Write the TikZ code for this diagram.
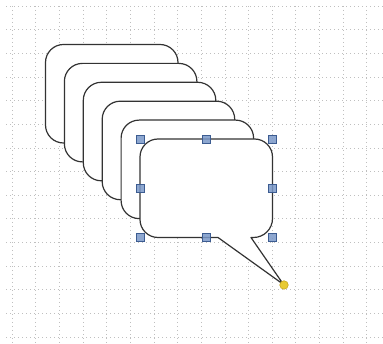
\documentclass[tikz,border=0pt]{standalone}
\definecolor{outline}{RGB}{51,51,51}
\definecolor{handlefill}{RGB}{122,152,200}
\definecolor{handledraw}{RGB}{60,92,145}
\definecolor{knobfill}{RGB}{232,202,50}
\definecolor{knobdraw}{RGB}{200,168,30}
\begin{document}
\begin{tikzpicture}[x=1pt,y=-1pt,
  gridline/.style={draw=gray!50, line width=0.7pt, dash pattern=on 0.9pt off 3.1pt},
  bubble/.style={draw=outline, fill=white, line width=1.2pt, line join=round},
  backbubble/.style={bubble, rounded corners=18pt},
  handle/.style={draw=handledraw, fill=handlefill, fill opacity=0.85, line width=0.8pt, rectangle, minimum size=8pt, inner sep=0pt},
  knob/.style={draw=knobdraw, fill=knobfill, line width=0.6pt, circle, minimum size=8.5pt, inner sep=0pt}]
\useasboundingbox (0,0) rectangle (383,344);
% grid
\foreach \i in {0,...,15} \draw[gridline] (12+\i*23.65,6) -- (12+\i*23.65,344);
\foreach \j in {0,...,14} \draw[gridline] (6,6+\j*23.65) -- (383,6+\j*23.65);
% stacked back bubbles
\foreach \k in {0,...,4} \draw[backbubble] (45.5+\k*18.9,44.5+\k*18.9) rectangle ++(132.5,98.5);
% front bubble
\draw[bubble] (158,139) -- (254.5,139) arc[start angle=270,end angle=360,radius=18]
  -- (272.5,218.5) arc[start angle=0,end angle=90,radius=19]
  -- (251,237.5) -- (283.5,284.5) -- (218,237.5) -- (158,237.5)
  arc[start angle=90,end angle=180,radius=18] -- (140,157)
  arc[start angle=180,end angle=270,radius=18] -- cycle;
% selection handles
\node[handle] (h1) at (140,139) {};
\node[handle] (h2) at (206.5,139) {};
\node[handle] (h3) at (272.5,139) {};
\node[handle] (h4) at (140,188) {};
\node[handle] (h5) at (272.5,188) {};
\node[handle] (h6) at (140,237.5) {};
\node[handle] (h7) at (206.5,237.5) {};
\node[handle] (h8) at (272.5,237.5) {};
\node[knob] (tip) at (284,285) {};
\end{tikzpicture}
\end{document}
